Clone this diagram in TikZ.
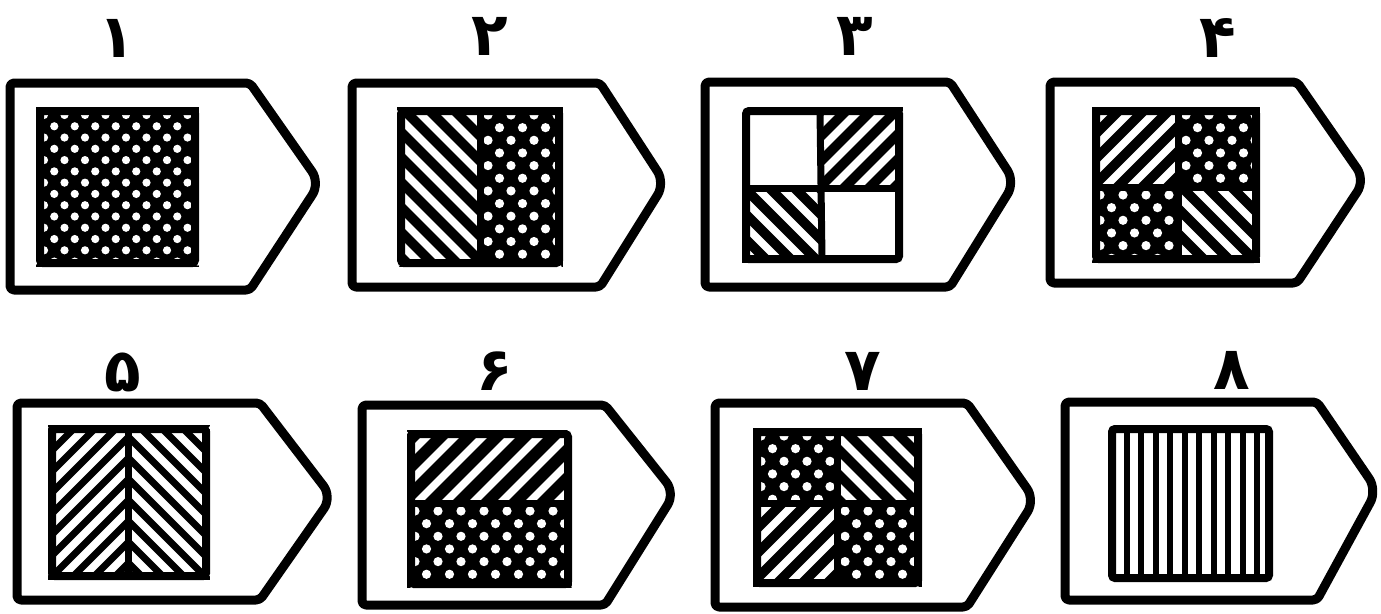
\documentclass[tikz,border=0pt]{standalone}
\usepackage{fontspec}
\newfontfamily\digitfont[Script=Arabic]{DejaVu Sans}
\TeXXeTstate=1
\tikzset{
  tagline/.style={line width=9pt, line join=round},
  frame/.style={line width=8pt, rounded corners=3pt},
  divider/.style={line width=7pt},
  lbl/.style={font=\digitfont\bfseries\fontsize{60}{64}\selectfont, inner sep=0pt}
}
% outline: x0, ytop, xcorner, xtip, ytip, ybot
\newcommand\tagoutline[6]{%
  \draw[tagline, rounded corners=4pt] (#1,#2) -- (#3,#2) [rounded corners=14pt] -- (#4,#5) [rounded corners=4pt] -- (#3,#6) -- (#1,#6) -- cycle;}
% dotted region: x1 y1 x2 y2 dx
\newcommand\dotregion[5]{%
  \begin{scope}
    \clip (#1,#2) rectangle (#3,#4);
    \fill (#1,#2) rectangle (#3,#4);
    \foreach \ry in {0,...,15}{\foreach \rx in {-1,...,9}{
      \fill[white] ({#1+8+\rx*#5+mod(\ry,2)*#5/2},{#2+8+\ry*#5*0.55}) circle ({#5*0.2pt});}}
  \end{scope}}
% striped region: x1 y1 x2 y2 dir(-1 = '/', 1 = '\') period
\newcommand\striperegion[6]{%
  \begin{scope}
    \clip (#1,#2) rectangle (#3,#4);
    \fill (#1,#2) rectangle (#3,#4);
    \pgfmathsetmacro\hh{#4-#2}
    \foreach \k in {-15,...,15}{
      \draw[white, line width=7.5pt] ({(#1+#3)/2+\k*#6},{#2}) -- ({(#1+#3)/2+\k*#6+(#5)*\hh},{#4});}
  \end{scope}}
\begin{document}
\begin{tikzpicture}[x=1pt,y=-1pt]
\useasboundingbox (0,0) rectangle (1381,613);

% ---------- Tag 1 ----------
\node[lbl] (l1) at (117,38) {\beginR ۱\endR};
\tagoutline{10}{83}{250}{320}{183}{290}
\dotregion{36}{107}{199}{267}{20.5}
\draw[frame] (40,111) rectangle (195,263);

% ---------- Tag 2 ----------
\node[lbl] (l2) at (490,36) {\beginR ۲\endR};
\tagoutline{352}{83}{600}{665}{183}{287}
\striperegion{397}{107}{480}{267}{1}{25}
\dotregion{480}{107}{563}{267}{23}
\draw[frame] (401,111) rectangle (559,263);
\draw[divider] (480,111) -- (480,263);

% ---------- Tag 3 ----------
\node[lbl] (l3) at (855,36) {\beginR ۳\endR};
\tagoutline{705}{82}{950}{1015}{182}{287}
\striperegion{822}{107}{903}{188}{-1}{25}
\striperegion{742}{188}{822}{263}{1}{25}
\draw[frame] (746,111) rectangle (899,259);
\draw[divider] (820,111) -- (822,259);
\draw[divider] (746,188) -- (899,188);

% ---------- Tag 4 ----------
\node[lbl] (l4) at (1218,38) {\beginR ۴\endR};
\tagoutline{1050}{82}{1297}{1365}{180}{283}
\striperegion{1092}{107}{1178}{187}{-1}{25}
\dotregion{1178}{107}{1260}{187}{23}
\dotregion{1092}{187}{1178}{263}{23}
\striperegion{1178}{187}{1260}{263}{1}{25}
\draw[frame] (1096,111) rectangle (1256,259);
\draw[divider] (1178,111) -- (1178,259);
\draw[divider] (1096,187) -- (1256,187);

% ---------- Tag 5 ----------
\node[lbl] (l5) at (123,372) {\beginR ۵\endR};
\tagoutline{17}{403}{260}{332}{497}{600}
\striperegion{48}{425}{128}{580}{-1}{21}
\striperegion{128}{425}{210}{580}{1}{21}
\draw[frame] (52,429) rectangle (206,576);
\draw[divider] (128,429) -- (128,576);

% ---------- Tag 6 ----------
\node[lbl] (l6) at (495,371) {\beginR ۶\endR};
\tagoutline{362}{405}{605}{675}{493}{605}
\striperegion{407}{430}{572}{503}{-1}{28}
\dotregion{407}{503}{572}{588}{23}
\draw[frame] (411,434) rectangle (568,584);
\draw[divider] (411,503) -- (568,503);

% ---------- Tag 7 ----------
\node[lbl] (l7) at (863,371) {\beginR ۷\endR};
\tagoutline{715}{403}{967}{1035}{500}{607}
\dotregion{753}{428}{837}{503}{23}
\striperegion{837}{428}{922}{503}{1}{25}
\striperegion{753}{503}{837}{587}{-1}{25}
\dotregion{837}{503}{922}{587}{23}
\draw[frame] (757,432) rectangle (918,583);
\draw[divider] (837,432) -- (837,583);
\draw[divider] (757,503) -- (918,503);

% ---------- Tag 8 ----------
\node[lbl] (l8) at (1232,370) {\beginR ۸\endR};
\tagoutline{1065}{402}{1317}{1377}{490}{600}
\foreach \i in {0,...,10}{
  \draw[line width=6pt] ({1112+\i*14.5},429) -- ({1112+\i*14.5},578);}
\draw[frame] (1112,429) rectangle (1269,578);
\end{tikzpicture}
\end{document}
